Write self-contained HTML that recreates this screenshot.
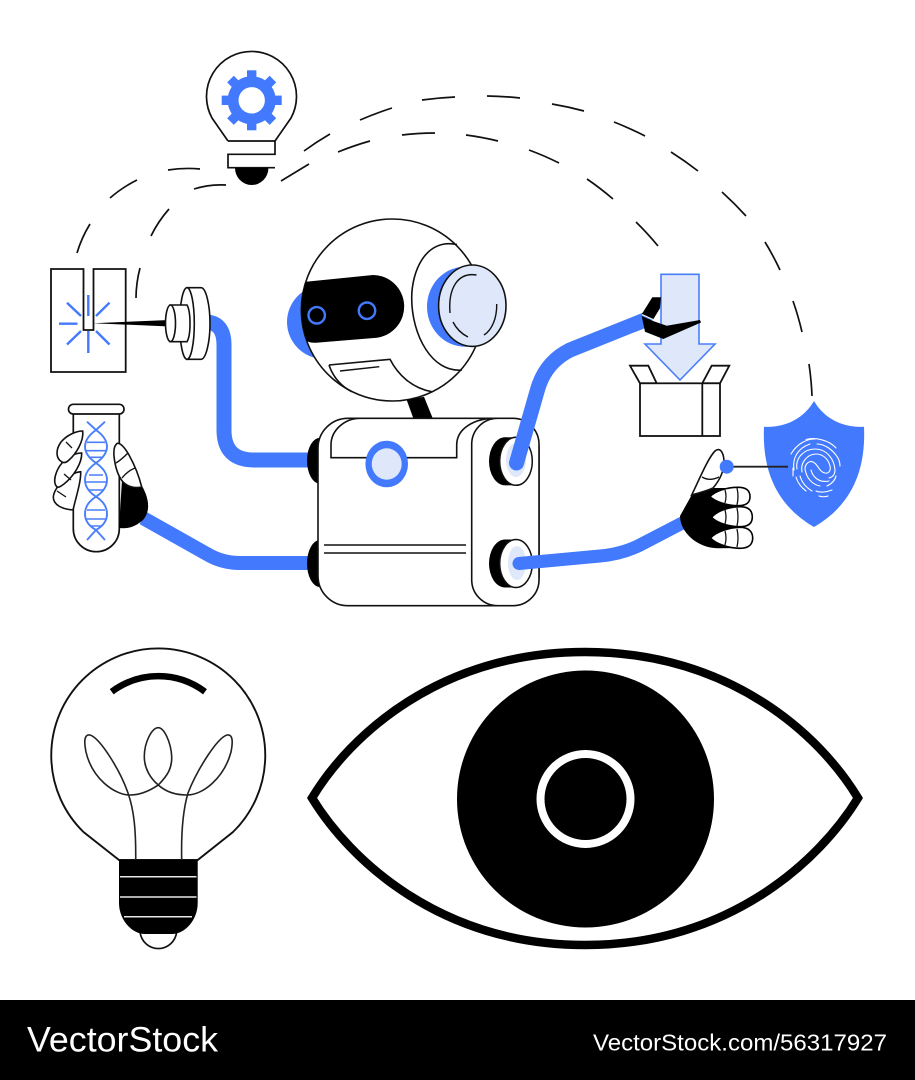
<!DOCTYPE html>
<html><head><meta charset="utf-8"><style>html,body{margin:0;padding:0;background:#fff;width:915px;height:1080px;overflow:hidden}svg{display:block}</style></head>
<body>
<svg width="915" height="1080" viewBox="0 0 915 1080" xmlns="http://www.w3.org/2000/svg">
<defs>
<clipPath id="headclip"><circle cx="392.3" cy="310" r="91"/></clipPath>
</defs>
<rect width="915" height="1080" fill="#fff"/>

<!-- dashed arcs -->
<g fill="none" stroke="#111" stroke-width="1.7">
<path d="M77 253A120 120 0 0 1 90 224"/><path d="M110 198A130 130 0 0 1 137 180"/><path d="M168 170A130 130 0 0 1 200 169"/>
<path d="M304 151A300 300 0 0 1 330 134"/><path d="M360 120A350 350 0 0 1 392 108"/><path d="M422 100A350 350 0 0 1 455 97"/><path d="M487 96A350 350 0 0 1 520 98"/><path d="M552 104A350 350 0 0 1 584 111"/><path d="M614 122A350 350 0 0 1 645 136"/><path d="M671 152A350 350 0 0 1 698 171"/><path d="M722 192A350 350 0 0 1 746 216"/><path d="M765 242A300 300 0 0 1 780 270"/><path d="M793 301A300 300 0 0 1 802 332"/><path d="M809 364A300 300 0 0 1 812 396"/>
<path d="M136 298A120 120 0 0 1 140 268"/><path d="M151 236A120 120 0 0 1 169 209"/><path d="M194 189A90 90 0 0 1 226 185"/>
<path d="M281 181L309 164"/><path d="M338 152A300 300 0 0 1 370 141"/><path d="M402 135A300 300 0 0 1 435 133"/><path d="M466 135A300 300 0 0 1 498 141"/><path d="M529 150A300 300 0 0 1 559 163"/><path d="M587 179A300 300 0 0 1 613 199"/><path d="M636 222A300 300 0 0 1 658 246"/>
</g>

<!-- small bulb -->
<path d="M228 141L212 118A45 45 0 1 1 291 118L275 141" fill="#fff" stroke="#111" stroke-width="1.7"/>
<path d="M228 141H275V154.3H228V167.7H275" fill="#fff" stroke="#111" stroke-width="1.7"/>
<path d="M235 168A16.7 17 0 0 0 268.4 168Z" fill="#000"/>
<g transform="translate(251.7 100.3)">
<circle r="18.5" fill="none" stroke="#4279fd" stroke-width="11"/>
<g fill="#4279fd">
<rect x="-4.7" y="-30" width="9.4" height="60"/>
<rect x="-4.7" y="-30" width="9.4" height="60" transform="rotate(45)"/>
<rect x="-4.7" y="-30" width="9.4" height="60" transform="rotate(90)"/>
<rect x="-4.7" y="-30" width="9.4" height="60" transform="rotate(135)"/>
</g>
<circle r="13.2" fill="#fff"/>
</g>

<!-- laser box -->
<path d="M51 269H83.5V330H93.5V269H125.7V372H51Z" fill="#fff" stroke="#111" stroke-width="1.8"/>
<g stroke="#4279fd" stroke-width="2.4" fill="none">
<path d="M88.3 295V316"/><path d="M88.3 331V353"/><path d="M59 323.7H77.5"/>
<path d="M67 302.7L81 316"/><path d="M109.5 302.7L96 316"/><path d="M81 331L67 344.5"/><path d="M96 331L109.5 344.5"/>
</g>
<path d="M93 323.2L170 320V326.5Z" fill="#000"/>

<!-- blue arm to nozzle -->
<path d="M205 322Q224 322 224 345V430Q224 460 254 460H312" fill="none" stroke="#4279fd" stroke-width="15"/>
<!-- nozzle -->
<path d="M187 287.7H201C206 287.7 210 305 210 323.5S206 359.3 201 359.3H187Z" fill="#fff" stroke="#111" stroke-width="1.6"/>
<ellipse cx="187" cy="323.5" rx="7.3" ry="35.8" fill="#fff" stroke="#111" stroke-width="1.6"/>
<path d="M170 305H187C191 312 191 335 187 341.7H170Z" fill="#fff" stroke="#111" stroke-width="1.6"/>
<ellipse cx="170.5" cy="323.3" rx="5" ry="18.3" fill="#fff" stroke="#111" stroke-width="1.6"/>

<!-- head -->
<ellipse cx="324" cy="322" rx="37" ry="37" fill="#4279fd"/>
<circle cx="392.3" cy="310" r="91" fill="#fff" stroke="#111" stroke-width="1.6"/>
<path d="M296 284Q300 282 306 281.7L373 275A31.5 31.5 0 0 1 377 337.7L316 342.7Q300 344 296 320Z" fill="#000" clip-path="url(#headclip)"/>
<circle cx="316.7" cy="315.3" r="8.2" fill="none" stroke="#4279fd" stroke-width="2.4"/>
<circle cx="367" cy="310.7" r="8.2" fill="none" stroke="#4279fd" stroke-width="2.4"/>
<path d="M329 365L390 359.3C398 375 412 388 431.7 391.7" fill="none" stroke="#111" stroke-width="1.6"/>
<path d="M329 365C333 377 341 386 351.7 391.7" fill="none" stroke="#111" stroke-width="1.6"/>
<path d="M340 371L379.3 366.7" fill="none" stroke="#111" stroke-width="1.4"/>
<path d="M457 244.5C425 238 411.7 272 411.7 298C411.7 335 432 373 462 370" fill="none" stroke="#111" stroke-width="1.6"/>
<ellipse cx="465" cy="306.7" rx="38" ry="40" fill="#4279fd"/>
<ellipse cx="472.3" cy="305.7" rx="33.7" ry="40.7" fill="#dee8fa" stroke="#111" stroke-width="1.6"/>
<g fill="none" stroke="#111" stroke-width="1.4">
<path d="M476.5 275C458 272 448 288 450 313"/><path d="M453 322C457 330 462 334 468 337"/><path d="M496.7 304C497 318 492 330 484 335"/>
</g>
<path d="M406.7 400L424 396.7L432.7 418.3H413.3Z" fill="#000"/>

<!-- lower left arm -->
<path d="M312 563H240Q222 563 207 554L143 518" fill="none" stroke="#4279fd" stroke-width="14"/>

<!-- joints left -->
<ellipse cx="320" cy="460.7" rx="13" ry="23" fill="#000"/>
<ellipse cx="320" cy="563.5" rx="13" ry="23.5" fill="#000"/>

<!-- body -->
<rect x="318" y="418.3" width="221" height="187.4" rx="30" fill="#fff" stroke="#111" stroke-width="1.6"/>
<path d="M331 457.7V445C331 430 345 418.3 360 418.3H495C475 418.3 456.7 428 456.7 445V457.7Z" fill="#fff" stroke="#111" stroke-width="1.6"/>
<rect x="471.7" y="418.3" width="67.3" height="187.4" rx="26" fill="#fff" stroke="#111" stroke-width="1.6"/>
<path d="M324 545H466M324 553H466" stroke="#111" stroke-width="1.5" fill="none"/>
<ellipse cx="386.7" cy="464" rx="21.3" ry="23.3" fill="#4279fd"/>
<ellipse cx="386.7" cy="464" rx="15" ry="15.7" fill="#dee8fa"/>

<!-- right joints -->
<ellipse cx="505" cy="461.3" rx="16" ry="24" fill="#000"/>
<rect x="505" y="437.3" width="11" height="48" fill="#000"/>
<ellipse cx="516" cy="461.3" rx="16.3" ry="24" fill="#fff" stroke="#111" stroke-width="1.5"/>
<ellipse cx="516" cy="460" rx="10" ry="17" fill="#dee8fa"/>
<ellipse cx="505" cy="563.5" rx="16" ry="24" fill="#000"/>
<rect x="505" y="539.5" width="11" height="48" fill="#000"/>
<ellipse cx="516" cy="563.5" rx="16.3" ry="24" fill="#fff" stroke="#111" stroke-width="1.5"/>
<ellipse cx="517" cy="563" rx="9" ry="17" fill="#dee8fa"/>

<!-- box -->
<path d="M640 383.3L630 365.7H648.3L656.7 383.3ZM702.3 383.3L711.7 365.7H729.3L720 383.3Z" fill="#fff" stroke="#111" stroke-width="1.8"/>
<rect x="640" y="383.3" width="80" height="52.7" fill="#fff" stroke="#111" stroke-width="1.8"/>
<path d="M702.3 383.3V436" stroke="#111" stroke-width="1.8"/>
<!-- arrow -->
<path d="M661 274.3H699V344H715L680 380L645 344H661Z" fill="#dee8fa" stroke="#4a7efb" stroke-width="1.6"/>

<!-- upper right arm -->
<path d="M516.5 463L538 388Q546 362 570 350L645 320" fill="none" stroke="#4279fd" stroke-width="15" stroke-linecap="round"/>
<!-- gripper -->
<path d="M641.7 314.3L652.3 297.3H661L660 308.3L653.3 319.3Z" fill="#000"/>
<path d="M641.7 316L653 321L666.7 325.7L700 320L701 322.5L663.3 339L645 331.7Z" fill="#000"/>
<path d="M642 314.5L653 319.5" stroke="#fff" stroke-width="1.2"/>

<!-- lower right arm -->
<path d="M519 563.5L600 556Q622 554 640 545L690 519" fill="none" stroke="#4279fd" stroke-width="13" stroke-linecap="round"/>

<!-- right hand -->
<path d="M691.7 495L680 516C680 532 697 548 718 548.3L745 548L735 517L730 488L705 488Z" fill="#000"/>
<path d="M691.7 495C699 480 708 458 715 451C720 447 723.5 452 724 461C724.5 470 720 480 713 488C707 491 698 493 691.7 495Z" fill="#fff" stroke="#111" stroke-width="1.6"/>
<path d="M702 477C707 480 713 480 719 477" fill="none" stroke="#111" stroke-width="1.4"/>
<path d="M710 496.7C715 491 727 487.3 738 487.3C747 487.3 750 491 750 496.7C750 503 746 505.7 738 505.7C727 505.7 716 502 710 496.7Z" fill="#fff" stroke="#000" stroke-width="1.6"/>
<path d="M711.5 517.3C717 511 729 506.7 740 506.7C749 506.7 752.3 511 752.3 517C752.3 523 749 526.7 740 526.7C729 526.7 717 523 711.5 517.3Z" fill="#fff" stroke="#000" stroke-width="1.6"/>
<path d="M710.5 538C716 532 729 527.3 740 527.3C749 527.3 752.7 532 752.7 538C752.7 544 749 548.3 740 548.3C729 548.3 716 544 710.5 538Z" fill="#fff" stroke="#000" stroke-width="1.6"/>
<g fill="none" stroke="#111" stroke-width="1.3">
<path d="M725 490Q727 496 725 503M737 488Q739 496 737 505"/>
<path d="M725 510Q727 517 725 524M737 508Q739 517 737 526"/>
<path d="M725 531Q727 538 725 545M737 529Q739 538 737 547"/>
</g>

<!-- shield -->
<path d="M814 401C824 418 842 428 864 426.7C866 470 852 505 814 527C776 505 762 470 764 426.7C786 428 804 418 814 401Z" fill="#4279fd"/>
<path d="M727 466.7H788" stroke="#222" stroke-width="1.8"/>
<circle cx="726.7" cy="466.7" r="7" fill="#4279fd"/>
<g fill="none" stroke="#fff" stroke-width="1.1" stroke-linecap="round">
<path d="M791 454C797 444 806 439 815 439"/><path d="M806 439.5C815 437 829 440 836 448"/>
<path d="M794 470C792 458 798 448 810 444"/><path d="M817 444C825 444 833 450 838 458C840 462 840 464 840 466"/>
<path d="M797 469C795 457 805 449 815 449C826 449 834 458 835 470C835 474 833 477 829 478"/>
<path d="M793 476V468M796 477C798 484 802 488 806 491"/>
<path d="M802 472C800 462 808 454 816 454C822 454 828 458 830 466C831 470 829 474 825 473C819 472 818 464 813 462C808 460 803 466 806 473C808 480 814 485 820 486"/>
<path d="M800 476C802 483 807 488 812 491"/><path d="M811 470C813 478 820 483 829 481"/><path d="M836 476C835 481 831 484 827 486"/>
<path d="M816 491C820 493 827 492 832 490"/><path d="M819 496C822 497 825 497 828 496"/>
</g>

<!-- test tube -->
<path d="M73.3 414V528.7A23 23 0 0 0 119.3 528.7V414" fill="#fff" stroke="#111" stroke-width="1.7"/>
<rect x="68.5" y="404.3" width="55.5" height="9.7" rx="4.8" fill="#fff" stroke="#111" stroke-width="1.7"/>
<g fill="none" stroke="#4a7efb" stroke-width="1.9">
<path d="M87 421.7L96 430C103 435 107 440 107 446.7C107 453 103 458 96 463C89 468 85 473 85 480C85 487 89 492 96 496.7C103 501 107 507 107 514C107 521 103 526 96 530L105 540"/>
<path d="M105 421.7L96 430C89 435 85 440 85 446.7C85 453 89 458 96 463C103 468 107 473 107 480C107 487 103 492 96 496.7C89 501 85 507 85 514C85 521 89 526 96 530L87 540"/>
<path d="M87 442.3H105M85 450.7H107M89 457.3H103M89 475H103M85 482H107M88 490H104M87 510H105M85 519H107M90 526H102" stroke-width="1.6"/>
</g>
<!-- left hand -->
<path d="M122 480Q132 490 142 486C150 500 150 512 143 520C135 527 128 529 119 528Z" fill="#000"/>
<path d="M117.3 443.3C121 443 125 448 129 455C134 464 139 476 141.7 487C135 488.5 128 487 123 482C118 476 115 466 114 456C113.5 450 114.5 445 117.3 443.3Z" fill="#fff" stroke="#111" stroke-width="1.6"/>
<path d="M116 463C121 460 125 456 128 453M122 478C126 473 130 470 135 468" fill="none" stroke="#111" stroke-width="1.4"/>
<path d="M73 510C62 509 53.3 505 53.3 497C54 488 68 473 80.7 471.7C81 482 76 497 73 510Z" fill="#fff" stroke="#111" stroke-width="1.6"/>
<path d="M57 487C52 482 56 470 62 463C68 456 76 453 81.7 453C82 463 74 476 64 484C61 486 59 488 57 487Z" fill="#fff" stroke="#111" stroke-width="1.6"/>
<path d="M62 462C55 458 56 449 61 442C67 435 76 431 82.7 431C84 441 76 454 69 460C66 463 64 463 62 462Z" fill="#fff" stroke="#111" stroke-width="1.6"/>
<path d="M57 491L66 497M64 474L71 480M66 442L72 448" fill="none" stroke="#111" stroke-width="1.3"/>

<!-- big bulb -->
<path d="M119 860L83.5 832A107 107 0 1 1 233 832L197.7 860Z" fill="#fff" stroke="#111" stroke-width="1.9"/>
<path d="M111.7 691.7C140 671 177 671 205 691.7" fill="none" stroke="#000" stroke-width="6.5"/>
<path d="M135.7 860C136 830 134 810 128 793C120 770 100 738 90 735C84 734 84 742 86 752C92 778 114 795 130 795C145 795 158 785 158.3 785C168 775 172 768 171.7 756.7C171 742 164 727.7 158.3 727.7C152 727.7 144.3 742 144.3 756.7C144.3 768 150 778 158.3 785C166 792 176 795 187 795C203 795 224 778 231 752C233 742 233 734 227 735C217 738 197 770 188 793C183 810 181 830 181.7 860" fill="none" stroke="#222" stroke-width="1.6"/>
<path d="M140 932A18.5 19 0 0 0 176.7 932Z" fill="#fff" stroke="#111" stroke-width="1.7"/>
<path d="M119 860H197.7V903C197.7 920 185 934 172 934H145C132 934 119 920 119 903Z" fill="#000"/>
<path d="M120 876.7H196.5M120 897H196.5M124 916.7H192" stroke="#e8e8e8" stroke-width="1.5"/>

<!-- eye -->
<path d="M312 798C350 735 440 652 585 652C730 652 820 735 858 798C820 860 730 945 585 945C440 945 350 860 312 798Z" fill="#fff" stroke="#000" stroke-width="8.5"/>
<circle cx="585.5" cy="799" r="128.5" fill="#000"/>
<circle cx="585.5" cy="799" r="45" fill="none" stroke="#fff" stroke-width="8"/>

<!-- footer -->
<rect x="0" y="1000" width="915" height="80" fill="#000"/>
<text x="27" y="1051.7" font-family="'Liberation Sans',sans-serif" font-size="35" fill="#fff" textLength="191" lengthAdjust="spacingAndGlyphs">VectorStock</text>
<text x="593" y="1050.7" font-family="'Liberation Sans',sans-serif" font-size="23.3" fill="#fff" textLength="294" lengthAdjust="spacingAndGlyphs">VectorStock.com/56317927</text>
</svg>
</body></html>
